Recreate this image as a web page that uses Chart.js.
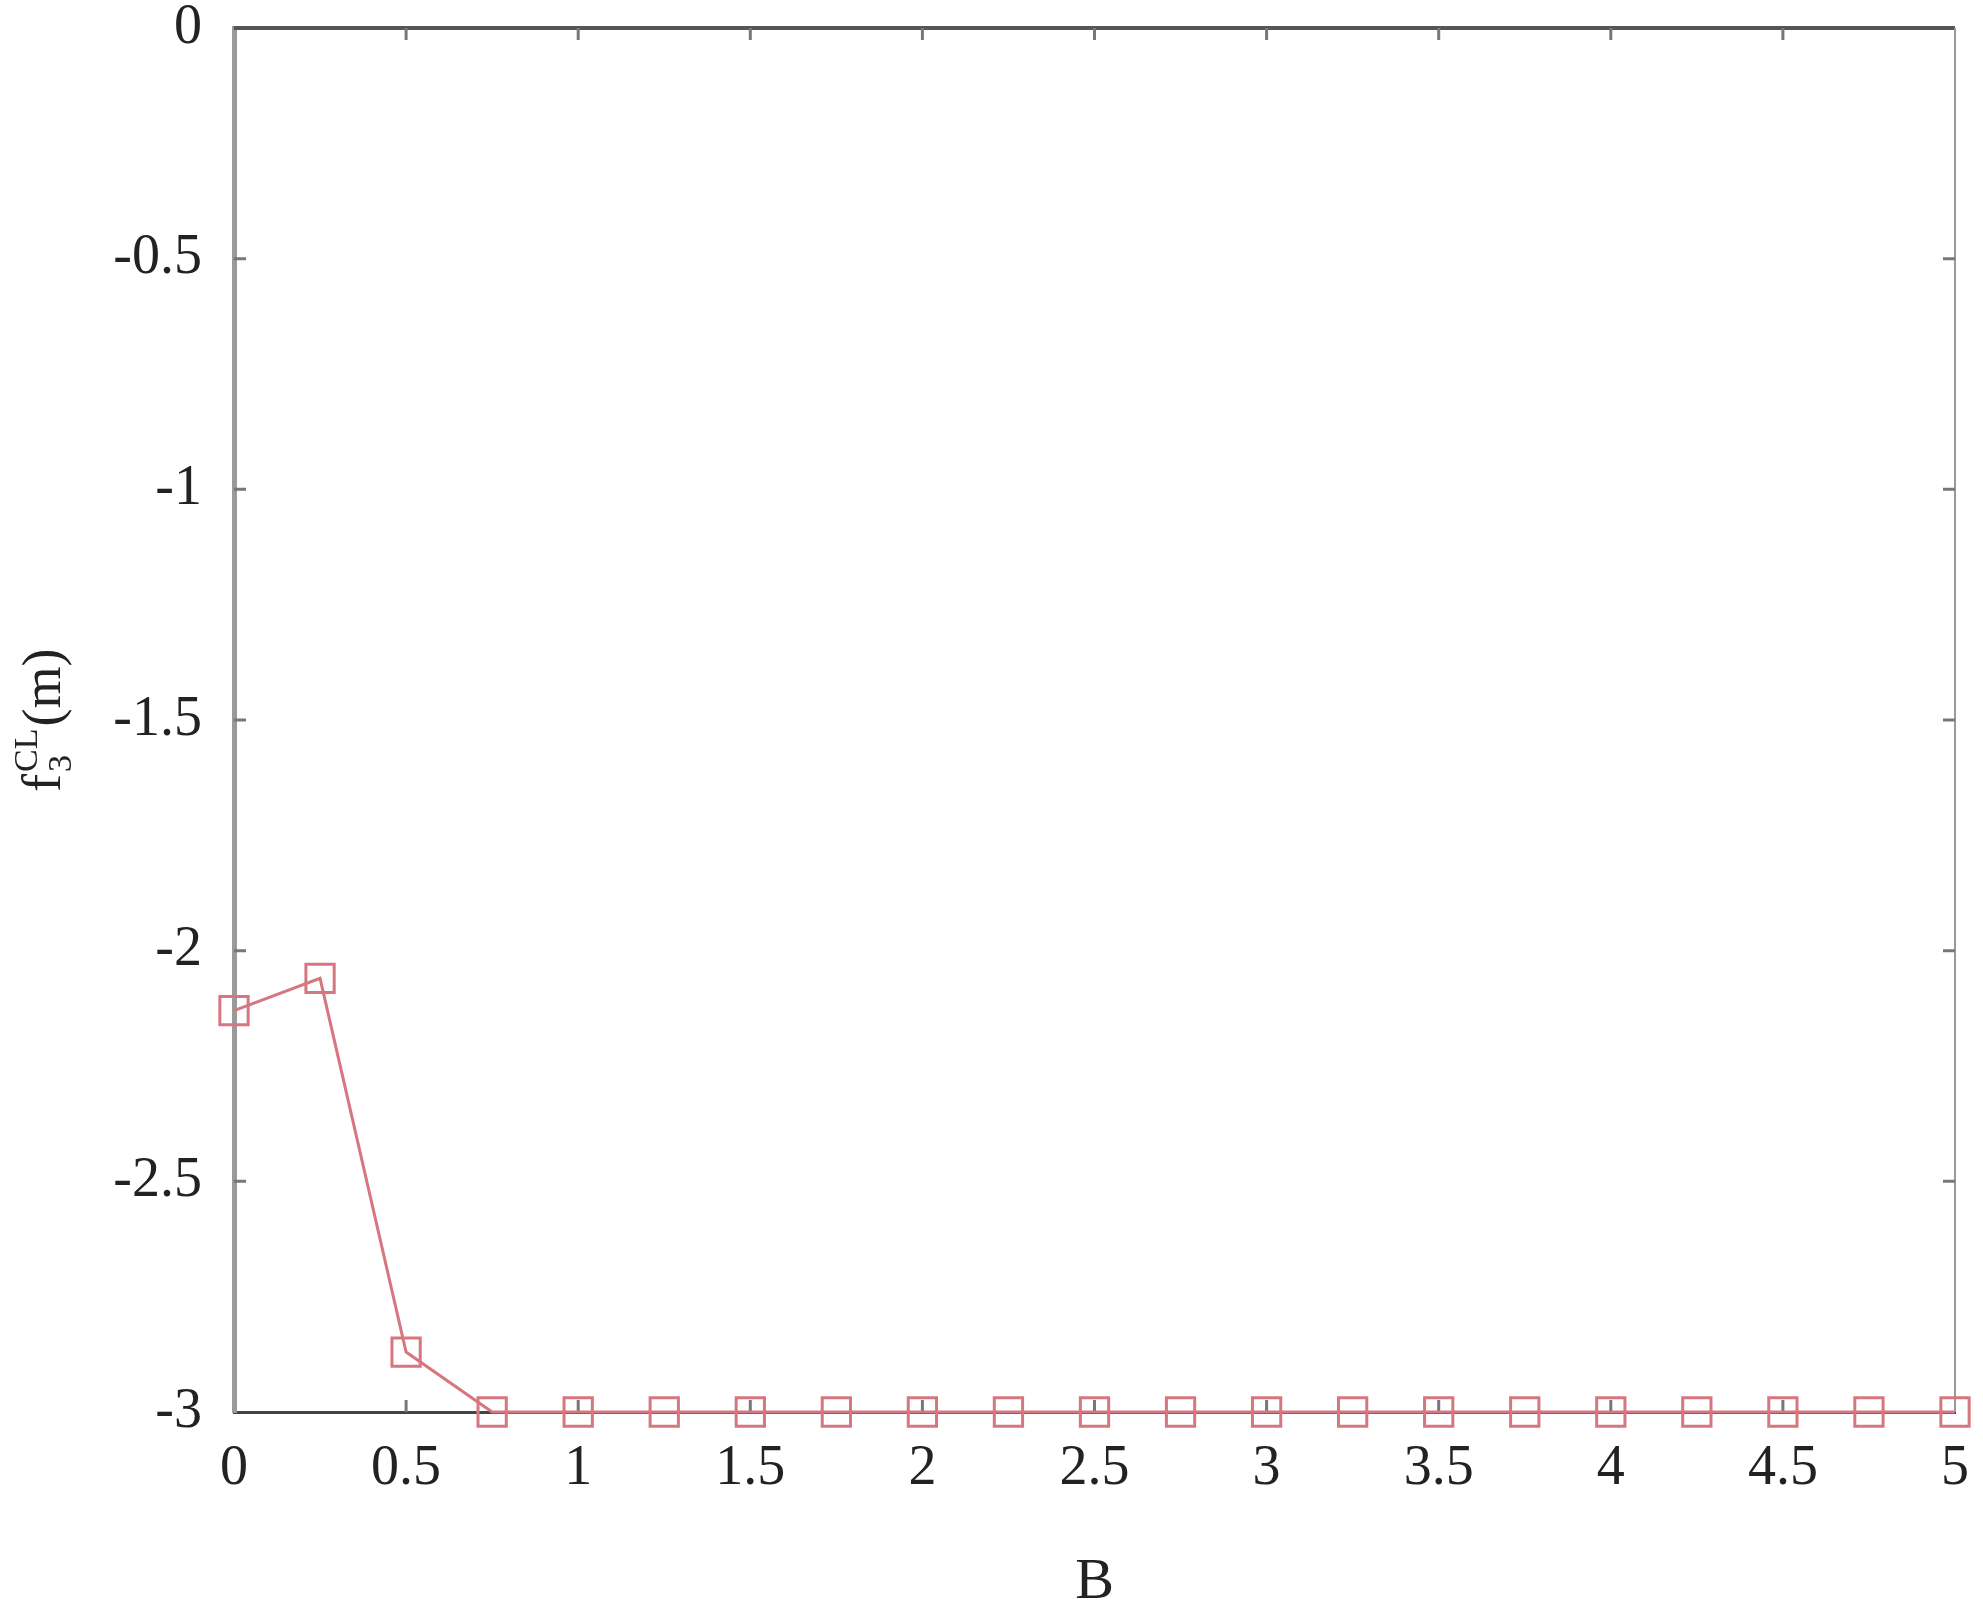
<!DOCTYPE html>
<html>
<head>
<meta charset="utf-8">
<script src="https://cdn.jsdelivr.net/npm/chart.js@4.4.0/dist/chart.umd.min.js"></script>
<style>
  html, body { margin: 0; padding: 0; background: #fff; }
</style>
</head>
<body>
<canvas id="myChart" width="1983" height="1618"></canvas>
<script>
const bValues = [0, 0.25, 0.5, 0.75, 1, 1.25, 1.5, 1.75, 2, 2.25, 2.5, 2.75, 3, 3.25, 3.5, 3.75, 4, 4.25, 4.5, 4.75, 5];
const fValues = [-2.13, -2.06, -2.87, -3, -3, -3, -3, -3, -3, -3, -3, -3, -3, -3, -3, -3, -3, -3, -3, -3, -3];
const xTicks = [0, 0.5, 1, 1.5, 2, 2.5, 3, 3.5, 4, 4.5, 5];
const yTicks = [0, -0.5, -1, -1.5, -2, -2.5, -3];

const serif = "'Liberation Serif', 'DejaVu Serif', serif";

// frame on top/right plus the small inward ticks
const framePlugin = {
  id: "frame",
  beforeDatasetsDraw(chart) {
    const { ctx, chartArea: a, scales } = chart;
    ctx.save();
    ctx.lineCap = "butt";
    ctx.strokeStyle = "#555";
    ctx.lineWidth = 4;
    ctx.beginPath();
    ctx.moveTo(a.left, a.top);
    ctx.lineTo(a.right, a.top);
    ctx.stroke();
    ctx.strokeStyle = "#999";
    ctx.lineWidth = 2;
    ctx.beginPath();
    ctx.moveTo(a.right, a.top);
    ctx.lineTo(a.right, a.bottom);
    ctx.stroke();

    ctx.strokeStyle = "#777";
    ctx.lineWidth = 3;
    const len = 12;
    xTicks.slice(1, -1).forEach((v) => {
      const x = scales.x.getPixelForValue(v);
      ctx.beginPath();
      ctx.moveTo(x, a.bottom);
      ctx.lineTo(x, a.bottom - len);
      ctx.moveTo(x, a.top);
      ctx.lineTo(x, a.top + len);
      ctx.stroke();
    });
    yTicks.slice(1, -1).forEach((v) => {
      const y = scales.y.getPixelForValue(v);
      ctx.beginPath();
      ctx.moveTo(a.left, y);
      ctx.lineTo(a.left + len, y);
      ctx.moveTo(a.right, y);
      ctx.lineTo(a.right - len, y);
      ctx.stroke();
    });
    ctx.restore();
  },
  afterDraw(chart) {
    // y title f3^CL(m) with sub/superscript, rotated
    const ctx = chart.ctx;
    const fs = 54;
    const small = 34;
    ctx.save();
    ctx.translate(60, 792);
    ctx.rotate(-Math.PI / 2);
    ctx.fillStyle = "#222";
    ctx.textBaseline = "alphabetic";
    ctx.textAlign = "left";
    ctx.font = fs + "px " + serif;
    ctx.fillText("f", 0, 0);
    let x = ctx.measureText("f").width + 2;
    ctx.font = small + "px " + serif;
    ctx.fillText("CL", x, -fs * 0.42);
    ctx.fillText("3", x, fs * 0.2);
    x += Math.max(ctx.measureText("CL").width, ctx.measureText("3").width) + 2;
    ctx.font = fs + "px " + serif;
    ctx.fillText("(m)", x, 0);
    ctx.restore();
  },
};

new Chart("myChart", {
  type: "line",
  data: {
    datasets: [
      {
        data: bValues.map((b, i) => ({ x: b, y: fValues[i] })),
        borderColor: "#d6767e",
        borderWidth: 3,
        backgroundColor: "rgba(0,0,0,0)",
        pointStyle: "rect",
        pointRadius: 20,
        pointBorderWidth: 3,
        pointBorderColor: "#d6767e",
        pointBackgroundColor: "rgba(0,0,0,0)",
        lineTension: 0,
        fill: false,
        clip: false,
      },
    ],
  },
  options: {
    responsive: false,
    animation: false,
    layout: { padding: { top: 28, right: 28, left: 0, bottom: 0 } },
    plugins: {
      legend: { display: false },
      tooltip: { enabled: false },
    },
    scales: {
      x: {
        type: "linear",
        min: 0,
        max: 5,
        afterBuildTicks: (s) => { s.ticks = xTicks.map((v) => ({ value: v })); },
        afterFit: (s) => {
          s.height = 206;
          s.paddingLeft = 0;
          s.paddingRight = 0;
        },
        grid: { drawOnChartArea: false, drawTicks: false },
        border: { color: "#444", width: 3 },
        ticks: {
          padding: 24,
          color: "#222",
          font: { family: serif, size: 56 },
          callback: (v) => String(v),
        },
        title: {
          display: true,
          text: "B",
          color: "#222",
          font: { family: serif, size: 58 },
          padding: { top: 0, bottom: 0 },
        },
      },
      y: {
        min: -3,
        max: 0,
        afterBuildTicks: (s) => { s.ticks = yTicks.map((v) => ({ value: v })); },
        afterFit: (s) => {
          s.width = 234;
          s.paddingTop = 0;
          s.paddingBottom = 0;
        },
        grid: { drawOnChartArea: false, drawTicks: false },
        border: { color: "#9a9a9a", width: 5 },
        ticks: {
          padding: 32,
          color: "#222",
          font: { family: serif, size: 56 },
          callback: (v) => String(v),
        },
      },
    },
  },
  plugins: [framePlugin],
});
</script>
</body>
</html>
